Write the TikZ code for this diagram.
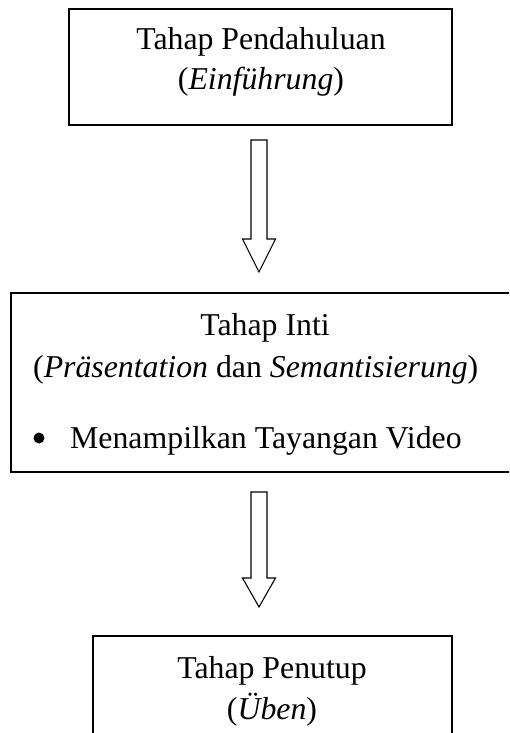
\documentclass[tikz,border=0pt]{standalone}
\usepackage{fontspec}
\setmainfont{Liberation Serif}
\usetikzlibrary{calc}
\begin{document}
\begin{tikzpicture}[x=1pt,y=-1pt,
  box/.style={draw,line width=1.4pt,inner sep=0pt},
  txt/.style={anchor=base,inner sep=0pt,font=\fontsize{31.8}{38}\selectfont},
  bulletdot/.style={circle,fill,inner sep=0pt,minimum size=11pt},
  blockarrow/.style={draw,line width=1.1pt,fill=white,line join=miter}]
\useasboundingbox (0,0) rectangle (509,733);
\clip (0,0) rectangle (509,733);
% boxes
\node[box,minimum width=383pt,minimum height=116pt] (b1) at (260.5,67) {};
\node[box,minimum width=508pt,minimum height=179pt] (b2) at (265,382.5) {};
\node[box,minimum width=359pt,minimum height=124pt] (b3) at (272.5,698) {};
% texts
\node[txt] (t1a) at (261,50) {Tahap Pendahuluan};
\node[txt] (t1b) at (261,90) {(\textit{Einführung})};
\node[txt] (t2a) at (265,335) {Tahap Inti};
\node[txt,anchor=base west] (t2b) at (33,377) {(\textit{Präsentation} dan \textit{Semantisierung})};
\node[bulletdot] (t2bul) at (39,438) {};
\node[txt,anchor=base west] (t2c) at (70,448) {Menampilkan Tayangan Video};
\node[txt] (t3a) at (272,678) {Tahap Penutup};
\node[txt] (t3b) at (272,719) {(\textit{Üben})};
% block arrows
\coordinate (a1s) at (259,140);
\coordinate (a1t) at (259,272);
\coordinate (a2s) at (259,492);
\coordinate (a2t) at (259,607);
\draw[blockarrow] ($(a1s)+(-8,0)$) -- ($(a1s)+(8,0)$) -- ($(a1t)+(8,-33)$) -- ($(a1t)+(16.5,-33)$)
  -- (a1t) -- ($(a1t)+(-16.5,-33)$) -- ($(a1t)+(-8,-33)$) -- cycle;
\draw[blockarrow] ($(a2s)+(-8,0)$) -- ($(a2s)+(8,0)$) -- ($(a2t)+(8,-29)$) -- ($(a2t)+(16.5,-29)$)
  -- (a2t) -- ($(a2t)+(-16.5,-29)$) -- ($(a2t)+(-8,-29)$) -- cycle;
\end{tikzpicture}
\end{document}
